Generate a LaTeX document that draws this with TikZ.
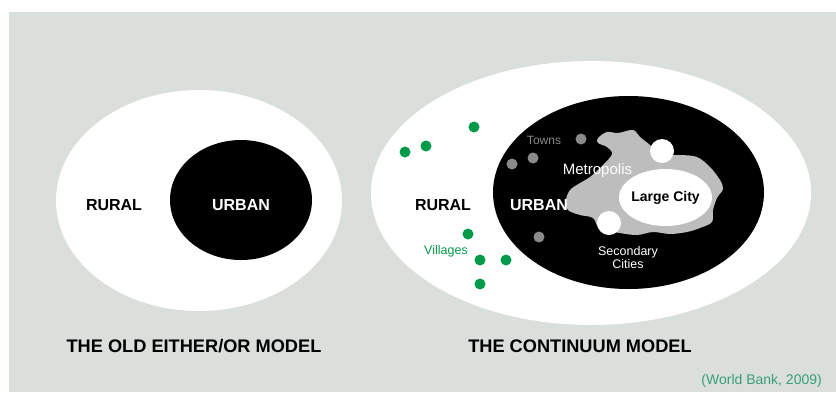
\documentclass[tikz,border=0pt]{standalone}
\usepackage{fontspec}
\setmainfont{Liberation Sans}
\definecolor{bggrey}{HTML}{DBDFDC}
\definecolor{blobgrey}{HTML}{BDBDBD}
\definecolor{towngrey}{HTML}{8A8A8A}
\definecolor{villgreen}{HTML}{009A49}
\definecolor{credgreen}{HTML}{3A9E78}
\tikzset{
  lbl/.style={inner sep=0pt, font=\fontsize{#1}{#1}\selectfont\bfseries},
  rlbl/.style={inner sep=0pt, font=\fontsize{#1}{#1}\selectfont},
  village/.style={circle, fill=villgreen, minimum size=11pt, inner sep=0pt},
  town/.style={circle, fill=towngrey, minimum size=11pt, inner sep=0pt},
  hole/.style={circle, fill=white, minimum size=24pt, inner sep=0pt},
}
\begin{document}
\begin{tikzpicture}[x=1pt,y=-1pt]
\useasboundingbox (0,0) rectangle (836,392);
\fill[white] (0,0) rectangle (836,392);
\fill[bggrey] (9,12) rectangle (836,392);
% old model
\fill[white] (199,200.5) ellipse [x radius=143, y radius=110.5];
\fill[black] (241,200) ellipse [x radius=71, y radius=60];
\node[lbl=16] (rural1) at (114,205) {RURAL};
\node[lbl=16, text=white] (urban1) at (241,205) {URBAN};
\node[lbl=18.2] (title1) at (194,346) {THE OLD EITHER/OR MODEL};
% continuum model
\fill[white] (591,193) ellipse [x radius=220, y radius=132];
\fill[black] (628.5,192.5) ellipse [x radius=135.5, y radius=96.5];
\fill[blobgrey] plot[smooth cycle, tension=0.55] coordinates {
 (598,138) (607,132) (618,133) (633,130) (640,137) (650,145) (660,155)
 (680,155) (697,157) (710,167) (720,180) (723,189) (717,198) (713,210)
 (712,222) (700,228) (687,232) (670,234) (653,232) (637,235) (620,233)
 (600,229) (593,218) (580,215) (568,210) (566,200) (570,190) (580,183)
 (590,177) (603,165) (612,154) (607,147) (598,143)};
\fill[white] (665.5,197.5) ellipse [x radius=46.5, y radius=28.5];
\node[hole] (hole1) at (662,151) {};
\node[hole] (hole2) at (609,223) {};
\node[town] (t1) at (581,139) {};
\node[town] (t2) at (533,158) {};
\node[town] (t3) at (512,164) {};
\node[town] (t4) at (539,237) {};
\node[village] (v1) at (474,127) {};
\node[village] (v2) at (426,146) {};
\node[village] (v3) at (405,152) {};
\node[village] (v4) at (468,234) {};
\node[village] (v5) at (480,260) {};
\node[village] (v6) at (506,260) {};
\node[village] (v7) at (480,284) {};
\node[rlbl=12, text=towngrey] (towns) at (544,140) {Towns};
\node[rlbl=15, text=white] (metro) at (597.5,171) {Metropolis};
\node[lbl=14, text=black] (large) at (665.5,198) {Large City};
\node[lbl=16, text=white] (urban2) at (539,205) {URBAN};
\node[lbl=16] (rural2) at (443,205) {RURAL};
\node[rlbl=12.5, text=villgreen] (villages) at (446,251) {Villages};
\node[rlbl=12.5, text=white, align=center] (second) at (628,257.5) {Secondary\\[1pt]Cities};
\node[lbl=18.2] (title2) at (580,346) {THE CONTINUUM MODEL};
\node[rlbl=14, text=credgreen, anchor=east] (credit) at (822,381) {(World Bank, 2009)};
\end{tikzpicture}
\end{document}
